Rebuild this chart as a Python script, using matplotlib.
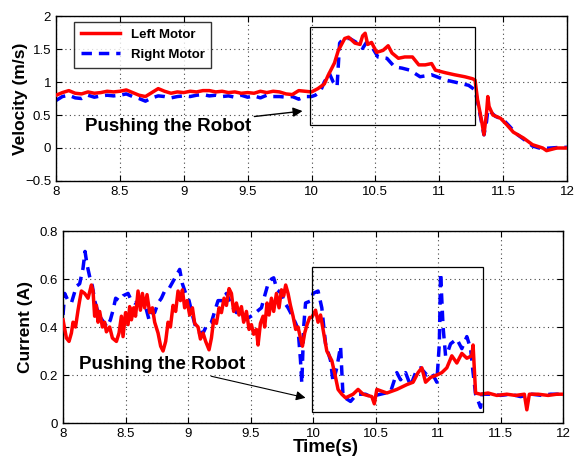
import numpy as np
from matplotlib import pyplot as plt
from matplotlib.patches import Rectangle

plt.rcParams['font.family'] = ['Liberation Sans', 'DejaVu Sans']

# velocity, left motor
vel_left_t = [8.0, 8.05, 8.1, 8.15, 8.2, 8.25, 8.3, 8.35, 8.4, 8.45, 8.5, 8.55, 8.6, 8.65, 8.7,
              8.75, 8.8, 8.85, 8.9, 8.95, 9.0, 9.05, 9.1, 9.15, 9.2, 9.25, 9.3, 9.35, 9.4, 9.45,
              9.5, 9.55, 9.6, 9.65, 9.7, 9.75, 9.8, 9.85, 9.9, 9.95, 10.0, 10.05, 10.1, 10.13,
              10.18, 10.21, 10.26, 10.29, 10.34, 10.38, 10.4, 10.42, 10.44, 10.47, 10.51, 10.56,
              10.6, 10.63, 10.68, 10.73, 10.79, 10.84, 10.89, 10.94, 10.97, 11.05, 11.12, 11.2,
              11.26, 11.28, 11.3, 11.33, 11.35, 11.37, 11.38, 11.39, 11.42, 11.48, 11.53, 11.58,
              11.66, 11.73, 11.81, 11.84, 11.92, 12.0]
vel_left = [0.80, 0.84, 0.87, 0.83, 0.82, 0.85, 0.83, 0.84, 0.86, 0.85, 0.86, 0.88, 0.84, 0.80, 0.78,
            0.84, 0.90, 0.86, 0.83, 0.85, 0.84, 0.86, 0.85, 0.87, 0.87, 0.85, 0.86, 0.84, 0.85, 0.83,
            0.84, 0.83, 0.86, 0.84, 0.86, 0.85, 0.82, 0.81, 0.87, 0.86, 0.85, 0.90, 0.97, 1.10,
            1.29, 1.48, 1.66, 1.68, 1.59, 1.57, 1.70, 1.74, 1.57, 1.60, 1.45, 1.48,
            1.55, 1.44, 1.36, 1.38, 1.38, 1.26, 1.26, 1.28, 1.18, 1.14, 1.11, 1.08,
            1.05, 1.03, 0.73, 0.43, 0.20, 0.53, 0.78, 0.63, 0.50, 0.45, 0.35, 0.24,
            0.15, 0.05, 0.00, -0.04, 0.00, 0.00]

# velocity, right motor
vel_right_t = [8.0, 8.05, 8.1, 8.15, 8.2, 8.25, 8.3, 8.35, 8.4, 8.45, 8.5, 8.55, 8.6, 8.65, 8.7,
               8.75, 8.8, 8.85, 8.9, 8.95, 9.0, 9.05, 9.1, 9.15, 9.2, 9.25, 9.3, 9.35, 9.4, 9.45,
               9.5, 9.55, 9.6, 9.65, 9.7, 9.75, 9.8, 9.85, 9.9, 9.95, 10.0, 10.03, 10.07, 10.1,
               10.14, 10.17, 10.2, 10.22, 10.25, 10.3, 10.36, 10.4, 10.43, 10.48, 10.52, 10.59,
               10.65, 10.71, 10.77, 10.85, 10.94, 11.05, 11.12, 11.23, 11.28, 11.3, 11.33, 11.35,
               11.37, 11.38, 11.4, 11.44, 11.5, 11.55, 11.6, 11.67, 11.73, 11.8, 11.87, 11.95, 12.0]
vel_right = [0.72, 0.78, 0.80, 0.76, 0.75, 0.80, 0.77, 0.79, 0.80, 0.79, 0.80, 0.82, 0.78, 0.75, 0.71,
             0.76, 0.79, 0.78, 0.76, 0.78, 0.79, 0.78, 0.80, 0.81, 0.79, 0.80, 0.78, 0.79, 0.77, 0.80,
             0.77, 0.79, 0.76, 0.80, 0.78, 0.78, 0.77, 0.78, 0.74, 0.78, 0.78, 0.80, 0.86, 1.00,
             1.13, 1.00, 0.93, 1.59, 1.66, 1.66, 1.59, 1.51, 1.60, 1.51, 1.38, 1.36,
             1.23, 1.21, 1.18, 1.08, 1.11, 1.03, 1.00, 0.95, 0.88, 0.70, 0.40, 0.20,
             0.40, 0.58, 0.55, 0.48, 0.43, 0.33, 0.22, 0.12, 0.03, -0.01, 0.00, 0.01, 0.01]

# current, left motor
cur_left_t = [8.0, 8.027, 8.048, 8.067, 8.08, 8.1, 8.12, 8.133, 8.147, 8.173, 8.2, 8.227, 8.24,
              8.253, 8.267, 8.28, 8.293, 8.315, 8.333, 8.347, 8.373, 8.395, 8.427, 8.448, 8.467,
              8.48, 8.5, 8.52, 8.533, 8.547, 8.565, 8.58, 8.6, 8.619, 8.635, 8.653, 8.672, 8.693,
              8.715, 8.733, 8.76, 8.781, 8.8, 8.821, 8.84, 8.859, 8.88, 8.901, 8.92, 8.939, 8.955,
              8.973, 8.992, 9.013, 9.035, 9.053, 9.08, 9.099, 9.12, 9.141, 9.168, 9.187, 9.205,
              9.227, 9.248, 9.267, 9.288, 9.307, 9.328, 9.347, 9.365, 9.387, 9.408, 9.427, 9.445,
              9.467, 9.488, 9.507, 9.525, 9.547, 9.56, 9.579, 9.6, 9.613, 9.632, 9.648, 9.667,
              9.685, 9.707, 9.728, 9.747, 9.765, 9.781, 9.8, 9.819, 9.84, 9.861, 9.88, 9.899,
              9.915, 9.933, 9.952, 9.973, 9.99, 10.02, 10.04, 10.06, 10.08, 10.11, 10.15, 10.18,
              10.2, 10.23, 10.26, 10.32, 10.36, 10.4, 10.47, 10.49, 10.51, 10.59, 10.67, 10.75,
              10.8, 10.84, 10.87, 10.9, 10.94, 10.99, 11.03, 11.07, 11.11, 11.15, 11.19, 11.23,
              11.27, 11.28, 11.3, 11.34, 11.4, 11.47, 11.55, 11.62, 11.69, 11.71, 11.73, 11.8,
              11.88, 11.95, 12.0]
cur_left = [0.43, 0.354, 0.34, 0.375, 0.42, 0.40, 0.47, 0.51, 0.55, 0.54, 0.52, 0.575, 0.55,
            0.445, 0.49, 0.42, 0.465, 0.40, 0.42, 0.38, 0.40, 0.354, 0.34, 0.375, 0.445,
            0.36, 0.46, 0.41, 0.485, 0.43, 0.48, 0.445, 0.55, 0.47, 0.54, 0.48, 0.535, 0.46,
            0.48, 0.42, 0.375, 0.32, 0.30, 0.34, 0.42, 0.40, 0.49, 0.465, 0.55, 0.51, 0.555,
            0.48, 0.51, 0.45, 0.48, 0.415, 0.40, 0.35, 0.375, 0.34, 0.305, 0.354, 0.43,
            0.415, 0.48, 0.46, 0.52, 0.49, 0.56, 0.54, 0.465, 0.50, 0.45, 0.485, 0.42,
            0.465, 0.39, 0.41, 0.37, 0.39, 0.325, 0.415, 0.445, 0.40, 0.50, 0.45, 0.52,
            0.465, 0.54, 0.48, 0.555, 0.53, 0.575, 0.54, 0.49, 0.445, 0.39, 0.40, 0.354,
            0.32, 0.375, 0.41, 0.44, 0.44, 0.47, 0.42, 0.45, 0.39, 0.30, 0.26, 0.19,
            0.14, 0.12, 0.105, 0.12, 0.14, 0.12, 0.11, 0.08, 0.14, 0.125, 0.14, 0.16,
            0.17, 0.21, 0.23, 0.17, 0.19, 0.20, 0.21, 0.23, 0.28, 0.25, 0.29, 0.27,
            0.28, 0.325, 0.125, 0.12, 0.125, 0.115, 0.12, 0.115, 0.12, 0.055, 0.12, 0.12,
            0.115, 0.12, 0.12]

# current, right motor
cur_right_t = [8.0, 8.013, 8.04, 8.067, 8.107, 8.133, 8.16, 8.176, 8.192, 8.213, 8.235, 8.253,
               8.275, 8.299, 8.325, 8.352, 8.379, 8.4, 8.421, 8.448, 8.48, 8.52, 8.547, 8.573,
               8.613, 8.653, 8.688, 8.707, 8.733, 8.76, 8.787, 8.813, 8.848, 8.88, 8.912, 8.933,
               8.955, 8.981, 9.008, 9.035, 9.061, 9.093, 9.125, 9.152, 9.187, 9.213, 9.24, 9.275,
               9.307, 9.333, 9.36, 9.387, 9.419, 9.453, 9.488, 9.52, 9.552, 9.587, 9.613, 9.64,
               9.667, 9.685, 9.712, 9.747, 9.773, 9.8, 9.835, 9.861, 9.88, 9.899, 9.91, 9.925,
               9.94, 9.987, 10.0, 10.04, 10.07, 10.1, 10.14, 10.16, 10.19, 10.22, 10.24, 10.3,
               10.35, 10.42, 10.46, 10.54, 10.62, 10.67, 10.7, 10.74, 10.78, 10.82, 10.86, 10.91,
               10.95, 10.99, 11.01, 11.02, 11.04, 11.06, 11.08, 11.1, 11.15, 11.19, 11.23, 11.26,
               11.28, 11.3, 11.34, 11.35, 11.42, 11.5, 11.58, 11.66, 11.75, 11.83, 11.9, 12.0]
cur_right = [0.45, 0.54, 0.51, 0.50, 0.57, 0.58, 0.645, 0.715, 0.66, 0.61, 0.57, 0.51,
             0.47, 0.44, 0.42, 0.40, 0.43, 0.47, 0.52, 0.51, 0.53, 0.54, 0.51, 0.50,
             0.51, 0.50, 0.43, 0.46, 0.46, 0.50, 0.52, 0.55, 0.56, 0.59, 0.62, 0.64,
             0.58, 0.54, 0.51, 0.45, 0.40, 0.375, 0.38, 0.41, 0.42, 0.465, 0.51, 0.51,
             0.54, 0.51, 0.48, 0.46, 0.465, 0.43, 0.44, 0.45, 0.465, 0.48, 0.53, 0.58,
             0.60, 0.605, 0.555, 0.54, 0.50, 0.48, 0.445, 0.415, 0.39, 0.265, 0.165, 0.40,
             0.50, 0.51, 0.54, 0.55, 0.48, 0.33, 0.26, 0.17, 0.23, 0.32, 0.11, 0.09,
             0.12, 0.12, 0.11, 0.12, 0.13, 0.21, 0.18, 0.21, 0.155, 0.21, 0.23, 0.20,
             0.21, 0.17, 0.33, 0.625, 0.40, 0.28, 0.30, 0.33, 0.35, 0.31, 0.36, 0.31,
             0.21, 0.12, 0.065, 0.12, 0.12, 0.115, 0.12, 0.11, 0.12, 0.115, 0.12, 0.12]

xticks = [8, 8.5, 9, 9.5, 10, 10.5, 11, 11.5, 12]
xticklabels = ['8', '8.5', '9', '9.5', '10', '10.5', '11', '11.5', '12']

fig = plt.figure(figsize=(5.74, 4.59), dpi=100)
ax1 = fig.add_axes([0.0976, 0.6057, 0.8902, 0.3593])
ax2 = fig.add_axes([0.1098, 0.0784, 0.8712, 0.4183])

red = '#ff0000'
blue = '#0000ff'

ax1.plot(vel_left_t, vel_left, color=red, lw=2.5, label='Left Motor', zorder=3)
ax1.plot(vel_right_t, vel_right, color=blue, lw=2.5, ls=(0, (3, 2)), label='Right Motor', zorder=2)
ax2.plot(cur_left_t, cur_left, color=red, lw=2.5, zorder=3)
ax2.plot(cur_right_t, cur_right, color=blue, lw=2.5, ls=(0, (3, 2)), zorder=2)

ax1.set_xlim(8, 12)
ax1.set_ylim(-0.5, 2)
ax1.set_yticks([-0.5, 0, 0.5, 1, 1.5, 2])
ax1.set_yticklabels(['\u22120.5', '0', '0.5', '1', '1.5', '2'])
ax2.set_xlim(8, 12)
ax2.set_ylim(0, 0.8)
ax2.set_yticks([0, 0.2, 0.4, 0.6, 0.8])
ax2.set_yticklabels(['0', '0.2', '0.4', '0.6', '0.8'])

for ax in (ax1, ax2):
    ax.set_xticks(xticks)
    ax.set_xticklabels(xticklabels)
    ax.grid(True, ls=(0, (1, 3)), color='#444444', lw=0.8)
    ax.tick_params(direction='in', top=True, right=True, labelsize=9.5, length=4)
    for s in ax.spines.values():
        s.set_linewidth(1.0)

ax1.set_ylabel('Velocity (m/s)', fontsize=12.5, fontweight='bold')
ax1.yaxis.set_label_coords(-0.055, 0.5)
ax2.set_ylabel('Current (A)', fontsize=12.5, fontweight='bold')
ax2.yaxis.set_label_coords(-0.06, 0.5)
ax2.set_xlabel('Time(s)', fontsize=13.5, fontweight='bold')
ax2.xaxis.set_label_coords(0.526, -0.082)

leg = ax1.legend(loc='upper left', bbox_to_anchor=(0.035, 0.964), borderaxespad=0,
                 fancybox=False, edgecolor='black', prop={'weight': 'bold', 'size': 9.5},
                 handlelength=3.0, borderpad=0.5, labelspacing=0.6)
leg.get_frame().set_linewidth(1.0)

ax1.add_patch(Rectangle((9.99, 0.35), 1.29, 1.48, fill=False, ec='black', lw=0.9, zorder=4))
ax2.add_patch(Rectangle((9.99, 0.045), 1.37, 0.606, fill=False, ec='black', lw=0.9, zorder=4))

ax1.annotate('Pushing the Robot', xy=(9.93, 0.56), xytext=(8.88, 0.33),
             ha='center', va='center', fontsize=13.5, fontweight='bold',
             arrowprops=dict(arrowstyle='-|>', color='black', lw=1.0, mutation_scale=14,
                             shrinkA=0, shrinkB=0))
ax2.annotate('Pushing the Robot', xy=(9.94, 0.105), xytext=(8.79, 0.242),
             ha='center', va='center', fontsize=13.5, fontweight='bold',
             arrowprops=dict(arrowstyle='-|>', color='black', lw=0.8, mutation_scale=14,
                             shrinkA=0, shrinkB=0))

plt.savefig('out.png', dpi=100)
